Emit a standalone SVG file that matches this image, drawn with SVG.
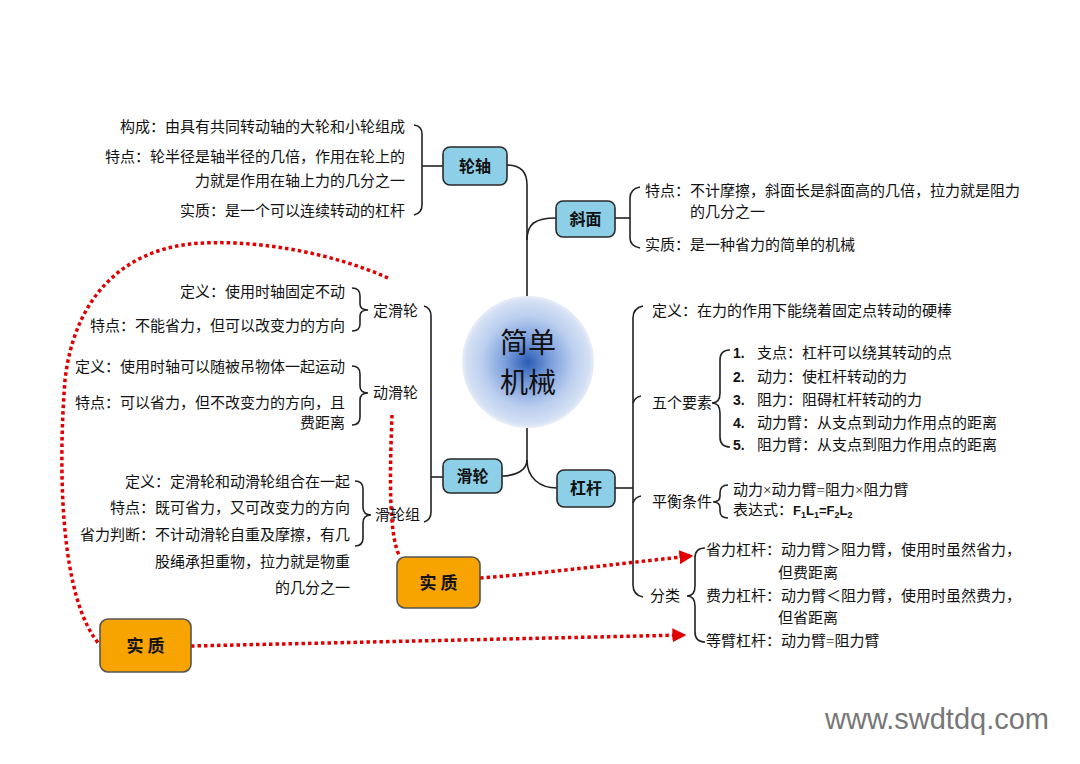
<svg xmlns="http://www.w3.org/2000/svg" width="1080" height="764" viewBox="0 0 1080 764">
<defs>
<radialGradient id="core" cx="0.5" cy="0.5" r="0.5">
<stop offset="0" stop-color="#2a5cb5"/>
<stop offset="0.35" stop-color="#7c9fdc"/>
<stop offset="0.7" stop-color="#bccfef"/>
<stop offset="0.93" stop-color="#d4e0f4"/>
<stop offset="1" stop-color="#e8eef8"/>
</radialGradient>
<marker id="arr" viewBox="0 0 10 10" refX="9" refY="5" markerWidth="4" markerHeight="4" orient="auto" markerUnits="strokeWidth">
<path d="M0,0 L10,5 L0,10 Z" fill="#e00000"/>
</marker>
<style>
.t{font-family:"Liberation Serif","Noto Sans CJK SC",serif;font-size:15px;fill:#111}
.e{text-anchor:end}
.b{font-family:"Noto Sans CJK SC",sans-serif;font-size:16px;fill:#111;text-anchor:middle;font-weight:bold}
.n{font-family:"Liberation Sans",sans-serif;font-weight:bold;font-size:14px;fill:#111}
.ln{fill:none;stroke:#222;stroke-width:1.6}
.box{fill:#8ccfe7;stroke:#2a2a2a;stroke-width:1.6}
.obox{fill:#f7a400;stroke:#555;stroke-width:1.6}
.dot{fill:none;stroke:#e00000;stroke-width:3.5;stroke-dasharray:3.5 3}
</style>
</defs>
<rect width="1080" height="764" fill="#ffffff"/>

<g id="connectors">
<path class="ln" d="M507,165 Q527,165 527,185 L527,298"/>
<path class="ln" d="M527,240 C527,224 535,218 556,218"/>
<path class="ln" d="M527,428 L527,460 C527,470 516,476 502,476"/>
<path class="ln" d="M527,460 C527,478 540,488 557,488"/>
<path class="ln" d="M422,166 L443,166"/>
<path class="ln" d="M414,125 Q422,126 422,134 L422,205 Q422,213 414,215"/>
<path class="ln" d="M615,218 L630,218"/>
<path class="ln" d="M640,187 Q630,189 630,198 L630,238 Q630,246 640,248"/>
<path class="ln" d="M615,488 L633,488"/>
<path class="ln" d="M643,306 Q633,308 633,318 L633,585 Q633,595 643,597"/>
<path class="ln" d="M633,403 Q635,397 641,396"/>
<path class="ln" d="M633,503 Q635,497 641,496"/>
<path class="ln" d="M730,350 Q720,350 720,360 L720,393 Q720,403 712,403 Q720,403 720,413 L720,437 Q720,447 730,447"/>
<path class="ln" d="M728,485 Q720,485 720,493 L720,496 Q720,502 713,502 Q720,502 720,508 L720,511 Q720,518 728,518"/>
<path class="ln" d="M705,548 Q695,548 695,558 L695,586 Q695,596 687,596 Q695,596 695,606 L695,632 Q695,642 705,642"/>
<path class="ln" d="M352,288 Q360,288 360,296 L360,304 Q360,310 368,310 Q360,310 360,316 L360,324 Q360,331 352,331"/>
<path class="ln" d="M352,366 Q360,366 360,374 L360,386 Q360,393 368,393 Q360,393 360,400 L360,417 Q360,425 352,425"/>
<path class="ln" d="M355,481 Q363,481 363,489 L363,507 Q363,515 371,515 Q363,515 363,523 L363,538 Q363,546 355,546"/>
<path class="ln" d="M424,306 Q431,308 431,316 L431,512 Q431,520 424,522"/>
<path class="ln" d="M431,477 L443,477"/>
<path class="dot" d="M388,278 C330,252 250,238 190,244 C120,252 74,300 65,380 C58,470 60,600 100,645"/>
<path class="dot" d="M191,646 L685,635" marker-end="url(#arr)"/>
<path class="dot" d="M392,415 C390,470 388,535 400,557"/>
<path class="dot" d="M480,578 C560,572 630,562 692,556" marker-end="url(#arr)"/>
</g>

<g id="center">
<circle cx="528" cy="362" r="66" fill="url(#core)"/>
<text x="528" y="353" font-family="Noto Sans CJK SC,sans-serif" font-size="28" fill="#111" text-anchor="middle">简单</text>
<text x="528" y="393" font-family="Noto Sans CJK SC,sans-serif" font-size="28" fill="#111" text-anchor="middle">机械</text>
</g>

<g id="lunzhou">
<rect class="box" x="443" y="147" width="64" height="38" rx="7"/>
<text class="b" x="475" y="172">轮轴</text>
<text class="t e" x="405" y="132">构成：由具有共同转动轴的大轮和小轮组成</text>
<text class="t e" x="405" y="162">特点：轮半径是轴半径的几倍，作用在轮上的</text>
<text class="t e" x="405" y="186">力就是作用在轴上力的几分之一</text>
<text class="t e" x="405" y="216">实质：是一个可以连续转动的杠杆</text>
</g>

<g id="xiemian">
<rect class="box" x="556" y="201" width="59" height="36" rx="7"/>
<text class="b" x="585.5" y="225">斜面</text>
<text class="t" x="645" y="196">特点：不计摩擦，斜面长是斜面高的几倍，拉力就是阻力</text>
<text class="t" x="690" y="217">的几分之一</text>
<text class="t" x="645" y="250">实质：是一种省力的简单的机械</text>
</g>

<g id="hualun">
<rect class="box" x="443" y="459" width="59" height="34" rx="7"/>
<text class="b" x="472.5" y="482">滑轮</text>
<text class="t" x="373" y="316">定滑轮</text>
<text class="t e" x="345" y="297">定义：使用时轴固定不动</text>
<text class="t e" x="345" y="331">特点：不能省力，但可以改变力的方向</text>
<text class="t" x="373" y="398">动滑轮</text>
<text class="t e" x="345" y="372">定义：使用时轴可以随被吊物体一起运动</text>
<text class="t e" x="345" y="408">特点：可以省力，但不改变力的方向，且</text>
<text class="t e" x="345" y="428">费距离</text>
<text class="t" x="375" y="520">滑轮组</text>
<text class="t e" x="350" y="487">定义：定滑轮和动滑轮组合在一起</text>
<text class="t e" x="350" y="513">特点：既可省力，又可改变力的方向</text>
<text class="t e" x="350" y="540">省力判断：不计动滑轮自重及摩擦，有几</text>
<text class="t e" x="350" y="567">股绳承担重物，拉力就是物重</text>
<text class="t e" x="350" y="593">的几分之一</text>
</g>

<g id="ganggan">
<rect class="box" x="557" y="470" width="58" height="37" rx="7"/>
<text class="b" x="586" y="494">杠杆</text>
<text class="t" x="652" y="316">定义：在力的作用下能绕着固定点转动的硬棒</text>
<text class="t" x="652" y="408">五个要素</text>
<text class="n" x="733" y="358">1.</text><text class="t" x="757" y="358">支点：杠杆可以绕其转动的点</text>
<text class="n" x="733" y="382">2.</text><text class="t" x="757" y="382">动力：使杠杆转动的力</text>
<text class="n" x="733" y="405">3.</text><text class="t" x="757" y="405">阻力：阻碍杠杆转动的力</text>
<text class="n" x="733" y="428">4.</text><text class="t" x="757" y="428">动力臂：从支点到动力作用点的距离</text>
<text class="n" x="733" y="450">5.</text><text class="t" x="757" y="450">阻力臂：从支点到阻力作用点的距离</text>
<text class="t" x="652" y="507">平衡条件</text>
<text class="t" x="733" y="495">动力×动力臂=阻力×阻力臂</text>
<text class="t" x="733" y="515">表达式：<tspan font-family="Liberation Sans,sans-serif" font-weight="bold" font-size="13">F<tspan font-size="9" dy="3">1</tspan><tspan dy="-3">L</tspan><tspan font-size="9" dy="3">1</tspan><tspan dy="-3">=F</tspan><tspan font-size="9" dy="3">2</tspan><tspan dy="-3">L</tspan><tspan font-size="9" dy="3">2</tspan></tspan></text>
<text class="t" x="650" y="601">分类</text>
<text class="t" x="706" y="555">省力杠杆：动力臂＞阻力臂，使用时虽然省力，</text>
<text class="t" x="778" y="578">但费距离</text>
<text class="t" x="706" y="601">费力杠杆：动力臂＜阻力臂，使用时虽然费力，</text>
<text class="t" x="778" y="623">但省距离</text>
<text class="t" x="706" y="646">等臂杠杆：动力臂=阻力臂</text>
</g>

<g id="shizhi1">
<rect class="obox" x="397" y="557" width="83" height="51" rx="8"/>
<text x="438.5" y="589" font-family="Noto Sans CJK SC,sans-serif" font-size="17" font-weight="bold" fill="#111" text-anchor="middle">实 质</text>
</g>
<g id="shizhi2">
<rect class="obox" x="100" y="619" width="91" height="53" rx="8"/>
<text x="145.5" y="652" font-family="Noto Sans CJK SC,sans-serif" font-size="17" font-weight="bold" fill="#111" text-anchor="middle">实 质</text>
</g>

<text x="825" y="729" font-family="Liberation Sans,Arial,sans-serif" font-size="29" fill="#777" textLength="224" lengthAdjust="spacingAndGlyphs">www.swdtdq.com</text>
</svg>
